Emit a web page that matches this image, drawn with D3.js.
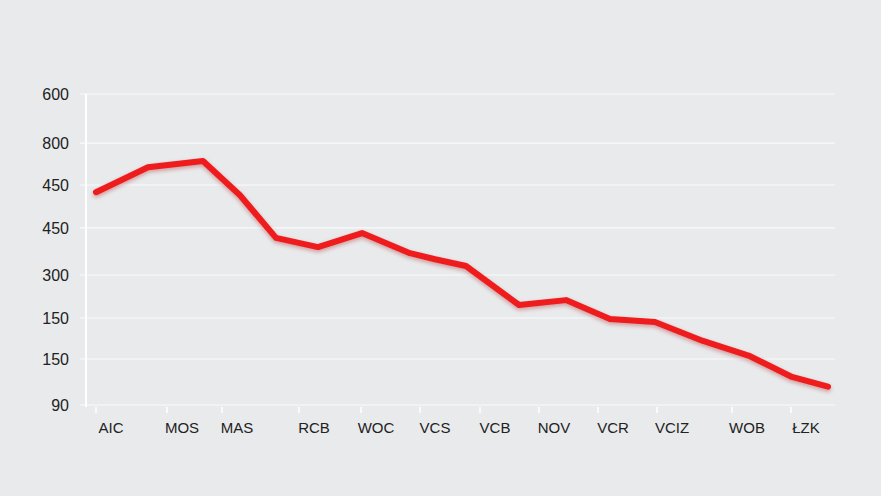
<!DOCTYPE html>
<html><head><meta charset="utf-8">
<script src="https://cdn.jsdelivr.net/npm/d3@7"></script>
<style>body{margin:0;background:#e9eaec}svg{display:block}</style></head>
<body><script>
const W=881,H=496;
const categories=["AIC","MOS","MAS","RCB","WOC","VCS","VCB","NOV","VCR","VCIZ","WOB","ŁZK"];
const categoryPos=[111,182,237,314,376,435,495,554,613,672,747,806];
const tickLabels=["600","800","450","450","300","150","150","90"];
const tickValues=[600,519.6,450.8,380.3,303.2,232.7,165.4,90];
const seriesX=[96,148,203,240,276,318,362,410,435,466,519,566,610,655,703,750,792,828];
const seriesValues=[439,480,490,434,364,349,372,339,329,318,254,262,231,226,195,170,136,120];

const svg=d3.select("body").append("svg").attr("width",W).attr("height",H);
const x=d3.scaleLinear().domain([0,881]).range([0,881]);
const y=d3.scaleLinear().domain([90,600]).range([405,94]);
const defs=svg.append("defs");
const f=defs.append("filter").attr("id","sh").attr("x","-10%").attr("y","-10%").attr("width","120%").attr("height","130%");
f.append("feDropShadow").attr("dx",0).attr("dy",2).attr("stdDeviation",2).attr("flood-color","#900").attr("flood-opacity",0.35);

// gridlines
svg.append("g").selectAll("line").data(tickValues).join("line")
 .attr("x1",80).attr("x2",835).attr("y1",d=>y(d)).attr("y2",d=>y(d))
 .attr("stroke","#fafafa").attr("stroke-width",1.2);
// y labels
svg.append("g").selectAll("text").data(tickValues).join("text")
 .attr("x",69).attr("y",d=>y(d)+6).attr("text-anchor","end")
 .attr("font-family","Liberation Sans, Arial").attr("font-size",16).attr("fill","#222")
 .text((d,i)=>tickLabels[i]);
// axis line
svg.append("line").attr("x1",86).attr("x2",86).attr("y1",94).attr("y2",407).attr("stroke","#fff").attr("stroke-width",2);
// x ticks
svg.append("g").selectAll("line").data(categoryPos).join("line")
 .attr("x1",d=>x(d)-15).attr("x2",d=>x(d)-15).attr("y1",407).attr("y2",413).attr("stroke","#fff").attr("stroke-width",1.5);
svg.append("g").selectAll("text").data(categories).join("text")
 .attr("x",(d,i)=>x(categoryPos[i])).attr("y",433).attr("text-anchor","middle")
 .attr("font-family","Liberation Sans, Arial").attr("font-size",15).attr("fill","#222").text(d=>d);
// line
const line=d3.line().x((d,i)=>x(seriesX[i])).y(d=>y(d));
svg.append("path").datum(seriesValues).attr("d",line).attr("fill","none")
 .attr("stroke","#ee1c1c").attr("stroke-width",6).attr("stroke-linejoin","round").attr("stroke-linecap","round")
 .attr("filter","url(#sh)");
</script></body></html>
